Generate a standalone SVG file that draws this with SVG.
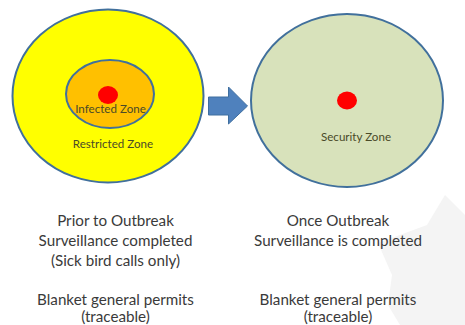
<svg xmlns="http://www.w3.org/2000/svg" width="465" height="325" viewBox="0 0 465 325">
<style>
.zone{stroke:#41709c;stroke-width:2}
.dot{fill:#ff0000}
text{font-family:"Lato","Open Sans",sans-serif;text-anchor:middle}
.s{font-size:11.600px;fill:#4a4a28}
.b{font-size:15.200px;fill:#3a3a3a}
</style>
<rect width="465" height="325" fill="#ffffff"/>
<polygon points="445,195 465,215 465,325 400,325 388,305 392,275 378,243 427,225" fill="#f4f4f4"/>
<g id="restricted-zone">
<ellipse class="zone" cx="108" cy="96" rx="95.500" ry="86.500" fill="#ffff00"/>
<text class="s" x="113" y="148">Restricted Zone</text>
</g>
<g id="infected-zone">
<ellipse class="zone" cx="110" cy="94" rx="44" ry="34" fill="#ffc000"/>
<ellipse class="dot" cx="108" cy="95" rx="10" ry="9"/>
<text class="s" x="110.500" y="113">Infected Zone</text>
</g>
<g id="security-zone">
<ellipse class="zone" cx="347" cy="100.500" rx="96" ry="86.500" fill="#d8e2bb"/>
<ellipse class="dot" cx="347" cy="100.500" rx="10" ry="9"/>
<text class="s" x="356" y="141">Security Zone</text>
</g>
<g id="connectors">
<polygon points="208.500,97 228.500,97 228.500,87 247.500,106 228.500,124 228.500,115 208.500,115" fill="#4f81bd" stroke="#3f6f9f" stroke-width="1"/>
</g>
<g id="left-caption">
<text class="b" x="115.500" y="226">Prior to Outbreak</text>
<text class="b" x="115.500" y="246">Surveillance completed</text>
<text class="b" x="115.500" y="266">(Sick bird calls only)</text>
<text class="b" x="115.500" y="305">Blanket general permits</text>
<text class="b" x="115.500" y="321.500">(traceable)</text>
</g>
<g id="right-caption">
<text class="b" x="338" y="226">Once Outbreak</text>
<text class="b" x="338" y="246">Surveillance is completed</text>
<text class="b" x="338" y="305">Blanket general permits</text>
<text class="b" x="338" y="321.500">(traceable)</text>
</g>
</svg>
